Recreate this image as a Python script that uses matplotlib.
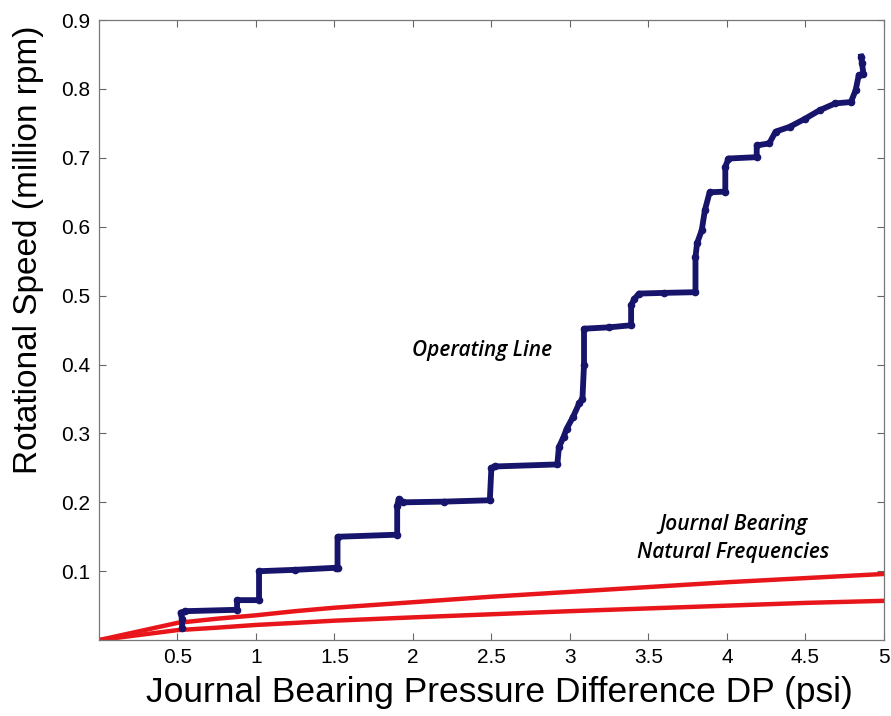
import matplotlib.pyplot as plt
import numpy as np

# operating line: bearing pressure difference (psi) vs speed (million rpm)
op_dp = [0.53, 0.53, 0.52, 0.55, 0.88, 0.88, 1.02, 1.02, 1.25, 1.51, 1.52, 1.52,
         1.90, 1.90, 1.91, 1.94, 2.20, 2.49, 2.50, 2.52, 2.92, 2.93, 2.96,
         2.98, 3.02, 3.06, 3.08, 3.09, 3.09, 3.25, 3.39, 3.39, 3.41, 3.44,
         3.60, 3.80, 3.80, 3.81, 3.84, 3.86, 3.89, 3.99, 3.99, 4.01, 4.19,
         4.19, 4.27, 4.31, 4.40, 4.50, 4.59, 4.69, 4.79, 4.82, 4.84, 4.87,
         4.86, 4.855]
op_speed = [0.018, 0.030, 0.040, 0.042, 0.044, 0.058, 0.058, 0.100, 0.102, 0.105, 0.105, 0.150,
            0.153, 0.195, 0.205, 0.200, 0.201, 0.203, 0.250, 0.252, 0.255, 0.280, 0.295,
            0.307, 0.324, 0.344, 0.350, 0.400, 0.452, 0.454, 0.457, 0.486, 0.495, 0.503,
            0.504, 0.505, 0.556, 0.576, 0.595, 0.624, 0.650, 0.651, 0.687, 0.699, 0.701,
            0.718, 0.721, 0.738, 0.745, 0.757, 0.769, 0.779, 0.781, 0.798, 0.820, 0.822,
            0.838, 0.847]

# journal bearing natural frequencies (two modes)
nf_dp = [0.0, 0.5, 0.75, 1.0, 1.25, 1.5, 2.0, 2.5, 3.0, 3.5, 4.0, 4.5, 5.0, 5.2]
nf_upper = [0.0, 0.025, 0.031, 0.036, 0.042, 0.047, 0.055, 0.063, 0.070, 0.077, 0.084, 0.090, 0.096, 0.098]
nf_lower = [0.0, 0.0145, 0.018, 0.022, 0.025, 0.0282, 0.033, 0.0375, 0.042, 0.046, 0.050, 0.054, 0.057, 0.058]

plt.rcParams['font.family'] = ['Liberation Sans', 'DejaVu Sans']

fig = plt.figure(figsize=(8.91, 7.16), dpi=100)
ax = fig.add_axes([0.111, 0.106, 0.881, 0.866])

ax.plot(nf_dp, nf_upper, color='#e8161a', lw=3.2, solid_capstyle='butt')
ax.plot(nf_dp, nf_lower, color='#e8161a', lw=3.2, solid_capstyle='butt')
ax.plot(op_dp, op_speed, color='#17146b', lw=4.2, marker='o', ms=4.5,
        solid_joinstyle='round')

ax.set_xlim(0, 5)
ax.set_ylim(0, 0.9)
ax.set_xticks([0.5, 1, 1.5, 2, 2.5, 3, 3.5, 4, 4.5, 5])
ax.set_xticklabels(['0.5', '1', '1.5', '2', '2.5', '3', '3.5', '4', '4.5', '5'])
ax.set_yticks(np.arange(1, 10) / 10)
ax.set_yticklabels(['0.1', '0.2', '0.3', '0.4', '0.5', '0.6', '0.7', '0.8', '0.9'])
ax.tick_params(direction='in', top=True, right=True, length=5, width=0.8,
               color='#666666', labelsize=15, pad=6)
for s in ax.spines.values():
    s.set_color('#777777')
    s.set_linewidth(0.9)

ax.set_xlabel('Journal Bearing Pressure Difference DP (psi)', fontsize=25.5)
ax.xaxis.set_label_coords(0.51, -0.058)
ax.set_ylabel('Rotational Speed (million rpm)', fontsize=24)
ax.yaxis.set_label_coords(-0.07, 0.629)

ann = dict(family=['Open Sans', 'DejaVu Sans'], fontsize=15, style='italic',
           weight='semibold', ha='center', va='center')
ax.text(2.44, 0.421, 'Operating Line', **ann)
ax.text(4.04, 0.148, 'Journal Bearing\nNatural Frequencies', linespacing=1.45, **ann)

fig.savefig('out.png', dpi=100)
